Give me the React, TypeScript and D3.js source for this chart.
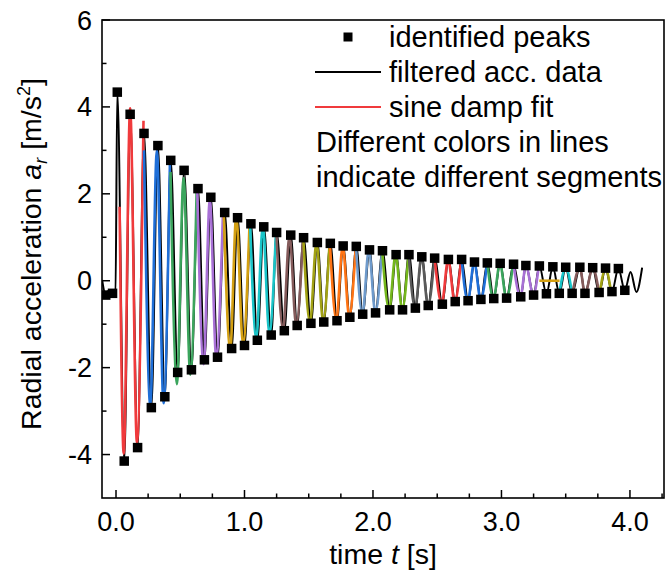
import React from "react";
import * as d3 from "d3";

// ---------- data ----------
// identified peaks (pre-impact squares, upper peaks, lower peaks)
const preT = [-0.08, -0.027];
const preV = [-0.33, -0.29];

const topT = [0.010, 0.110, 0.218, 0.326, 0.426, 0.530, 0.638, 0.738, 0.846, 0.946, 1.050, 1.150, 1.250, 1.360, 1.460, 1.567, 1.668, 1.768, 1.870, 1.973, 2.074, 2.180, 2.280, 2.380, 2.480, 2.587, 2.690, 2.790, 2.890, 2.990, 3.094, 3.190, 3.295, 3.400, 3.500, 3.610, 3.710, 3.810, 3.910];
const topV = [4.34, 3.83, 3.39, 3.11, 2.77, 2.54, 2.12, 1.92, 1.57, 1.45, 1.31, 1.24, 1.11, 1.05, 0.99, 0.88, 0.86, 0.80, 0.79, 0.71, 0.69, 0.60, 0.60, 0.55, 0.52, 0.49, 0.49, 0.43, 0.41, 0.40, 0.38, 0.35, 0.34, 0.32, 0.31, 0.31, 0.30, 0.29, 0.28];

const botT = [0.064, 0.168, 0.275, 0.380, 0.480, 0.587, 0.688, 0.790, 0.900, 1.000, 1.100, 1.208, 1.310, 1.410, 1.517, 1.617, 1.720, 1.820, 1.920, 2.020, 2.130, 2.230, 2.330, 2.430, 2.540, 2.640, 2.740, 2.840, 2.940, 3.040, 3.150, 3.250, 3.350, 3.450, 3.550, 3.650, 3.760, 3.860, 3.960];
const botV = [-4.15, -3.84, -2.92, -2.67, -2.11, -2.05, -1.82, -1.76, -1.56, -1.49, -1.37, -1.25, -1.15, -1.03, -0.98, -0.95, -0.92, -0.84, -0.77, -0.74, -0.67, -0.67, -0.63, -0.57, -0.54, -0.48, -0.46, -0.43, -0.41, -0.40, -0.37, -0.33, -0.30, -0.29, -0.29, -0.29, -0.27, -0.25, -0.22];

// extra turning points of the filtered acceleration signal (before impact / tail)
const accExtraT = [-0.108, -0.055, -0.004, 4.005, 4.050, 4.095];
const accExtraV = [0.02, -0.22, -0.28, 0.20, -0.26, 0.30];

// sine damp fit turning points, segment after segment
const fitT = [
  0.028, 0.060, 0.110, 0.163, 0.214,
  0.218, 0.267, 0.318, 0.370, 0.420,
  0.424, 0.474, 0.526, 0.578, 0.628,
  0.632, 0.682, 0.730, 0.780, 0.833,
  0.838, 0.889, 0.936, 0.988, 1.040,
  1.043, 1.092, 1.143, 1.193, 1.245,
  1.248, 1.300, 1.350, 1.402, 1.455,
  1.458, 1.510, 1.560, 1.612, 1.662,
  1.665, 1.715, 1.764, 1.815, 1.866,
  1.868, 1.918, 1.968, 2.018, 2.070,
  2.072, 2.126, 2.176, 2.227, 2.276,
  2.278, 2.328, 2.378, 2.428, 2.478,
  2.480, 2.535, 2.585, 2.636, 2.686,
  2.690, 2.738, 2.788, 2.838, 2.888,
  2.890, 2.938, 2.988, 3.038, 3.090,
  3.094, 3.148, 3.190, 3.248, 3.290,
  3.295, 3.452,
  3.450, 3.500, 3.550,
  3.552, 3.610, 3.650, 3.710, 3.760,
  3.762, 3.810, 3.850,
];
const fitV = [
  1.70, -3.98, 3.97, -3.72, 3.68,
  3.00, -2.86, 3.00, -2.82, 2.78,
  2.50, -2.38, 2.36, -2.16, 2.12,
  2.12, -1.92, 1.86, -1.76, 1.62,
  1.62, -1.57, 1.50, -1.46, 1.36,
  1.36, -1.32, 1.27, -1.21, 1.12,
  1.12, -1.13, 1.04, -1.02, 0.97,
  0.97, -0.97, 0.88, -0.93, 0.85,
  0.85, -0.90, 0.80, -0.83, 0.78,
  0.78, -0.76, 0.71, -0.73, 0.68,
  0.68, -0.66, 0.60, -0.66, 0.59,
  0.59, -0.62, 0.55, -0.57, 0.52,
  0.52, -0.53, 0.48, -0.48, 0.48,
  0.48, -0.46, 0.43, -0.43, 0.41,
  0.41, -0.41, 0.40, -0.40, 0.38,
  0.38, -0.37, 0.35, -0.33, 0.33,
  0.00, 0.00,
  -0.30, 0.30, -0.30,
  -0.30, 0.30, -0.30, 0.29, -0.28,
  -0.34, 0.27, -0.20,
];
const segLengths = [5, 5, 5, 5, 5, 5, 5, 5, 5, 5, 5, 5, 5, 5, 5, 5, 2, 3, 5, 3];
const segColors = [
  "#F03A3C", "#1F6FD8", "#3BA55D", "#A870D6", "#D4A012", "#19C4C8",
  "#845B5B", "#A2A214", "#FF7414", "#6E9ACB", "#74B71C", "#5A5A5A",
  "#F03A3C", "#1F6FD8", "#3BA55D", "#A870D6", "#D4A012", "#19C4C8",
  "#845B5B", "#A2A214",
];

const xTicks = [0, 1, 2, 3, 4];
const xTickLabels = ["0.0", "1.0", "2.0", "3.0", "4.0"];
const yTicks = [-4, -2, 0, 2, 4, 6];
const yTickLabels = ["-4", "-2", "0", "2", "4", "6"];

const legendLabels = ["identified peaks", "filtered acc. data", "sine damp fit"];
const noteLines = ["Different colors in lines", "indicate different segments"];

// ---------- layout ----------
const W = 670, H = 578;
const L = 102, R = 664, T = 20, B = 498;
const FONT = "'Liberation Sans', Arial, sans-serif";

export default function App() {
  const x = d3.scaleLinear().domain([-0.109, 4.265]).range([L, R]);
  const y = d3.scaleLinear().domain([-5, 6]).range([B, T]);

  const line = d3
    .line<[number, number]>()
    .x((d) => x(d[0]))
    .y((d) => y(d[1]))
    .curve(d3.curveMonotoneX);

  const peaks: [number, number][] = [
    ...preT.map((t, i) => [t, preV[i]] as [number, number]),
    ...topT.map((t, i) => [t, topV[i]] as [number, number]),
    ...botT.map((t, i) => [t, botV[i]] as [number, number]),
  ];
  const acc: [number, number][] = [
    ...peaks,
    ...accExtraT.map((t, i) => [t, accExtraV[i]] as [number, number]),
  ].sort((a, b) => a[0] - b[0]);

  const segments: { pts: [number, number][]; color: string }[] = [];
  let k = 0;
  segLengths.forEach((n, s) => {
    const pts: [number, number][] = [];
    for (let i = 0; i < n; i++) pts.push([fitT[k + i], fitV[k + i]]);
    k += n;
    segments.push({ pts, color: segColors[s] });
  });

  const xMinor = d3.range(0, 4.26, 0.25).filter((v) => Math.abs(v - Math.round(v)) > 1e-6);
  const yMinor = [-3, -1, 1, 3, 5];
  const sq = 9.5;

  return (
    <svg
      width={W}
      height={H}
      style={{ position: "absolute", left: 0, top: 0, background: "#fff" }}
      fontFamily={FONT}
    >
      <rect x={0} y={0} width={W} height={H} fill="#fff" />
      <defs>
        <clipPath id="plot">
          <rect x={L} y={T} width={R - L} height={B - T} />
        </clipPath>
      </defs>

      <g clipPath="url(#plot)">
        <path d={line(acc) || ""} fill="none" stroke="#000" strokeWidth={2} />
        {segments.map((s, i) => (
          <path key={i} d={line(s.pts) || ""} fill="none" stroke={s.color} strokeWidth={2.6} />
        ))}
        {peaks.map((p, i) => (
          <rect key={i} x={x(p[0]) - sq / 2} y={y(p[1]) - sq / 2} width={sq} height={sq} fill="#000" />
        ))}
      </g>

      {/* frame */}
      <rect x={L} y={T} width={R - L} height={B - T} fill="none" stroke="#000" strokeWidth={1.6} />

      {/* x ticks */}
      {xTicks.map((t, i) => (
        <g key={i}>
          <line x1={x(t)} x2={x(t)} y1={B} y2={B - 8} stroke="#000" strokeWidth={1.5} />
          <text x={x(t)} y={531} fontSize={27} textAnchor="middle">{xTickLabels[i]}</text>
        </g>
      ))}
      {xMinor.map((t, i) => (
        <line key={i} x1={x(t)} x2={x(t)} y1={B} y2={B - 4.5} stroke="#000" strokeWidth={1.5} />
      ))}

      {/* y ticks */}
      {yTicks.map((t, i) => (
        <g key={i}>
          <line x1={L} x2={L + 8} y1={y(t)} y2={y(t)} stroke="#000" strokeWidth={1.5} />
          <text x={92} y={y(t) + 9.5} fontSize={27} textAnchor="end">{yTickLabels[i]}</text>
        </g>
      ))}
      {yMinor.map((t, i) => (
        <line key={i} x1={L} x2={L + 4.5} y1={y(t)} y2={y(t)} stroke="#000" strokeWidth={1.5} />
      ))}

      {/* axis titles */}
      <text x={383} y={564} fontSize={28.5} textAnchor="middle">
        time <tspan fontStyle="italic">t</tspan> [s]
      </text>
      <text transform="translate(41,254) rotate(-90)" fontSize={28.5} textAnchor="middle">
        Radial acceleration <tspan fontStyle="italic">a</tspan>
        <tspan fontStyle="italic" fontSize={18} dy={6}>r</tspan>
        <tspan dy={-6}> [m/s</tspan>
        <tspan fontSize={18} dy={-11}>2</tspan>
        <tspan dy={11}>]</tspan>
      </text>

      {/* legend */}
      <rect x={348 - 4.5} y={37 - 4.5} width={9} height={9} fill="#000" />
      <line x1={315} x2={381} y1={72} y2={72} stroke="#000" strokeWidth={2} />
      <line x1={315} x2={381} y1={107} y2={107} stroke="#F03A3C" strokeWidth={2} />
      <text x={389} y={47} fontSize={29}>{legendLabels[0]}</text>
      <text x={389} y={82} fontSize={29}>{legendLabels[1]}</text>
      <text x={389} y={117} fontSize={29}>{legendLabels[2]}</text>
      <text x={316} y={152} fontSize={29}>{noteLines[0]}</text>
      <text x={316} y={187} fontSize={29}>{noteLines[1]}</text>
    </svg>
  );
}
